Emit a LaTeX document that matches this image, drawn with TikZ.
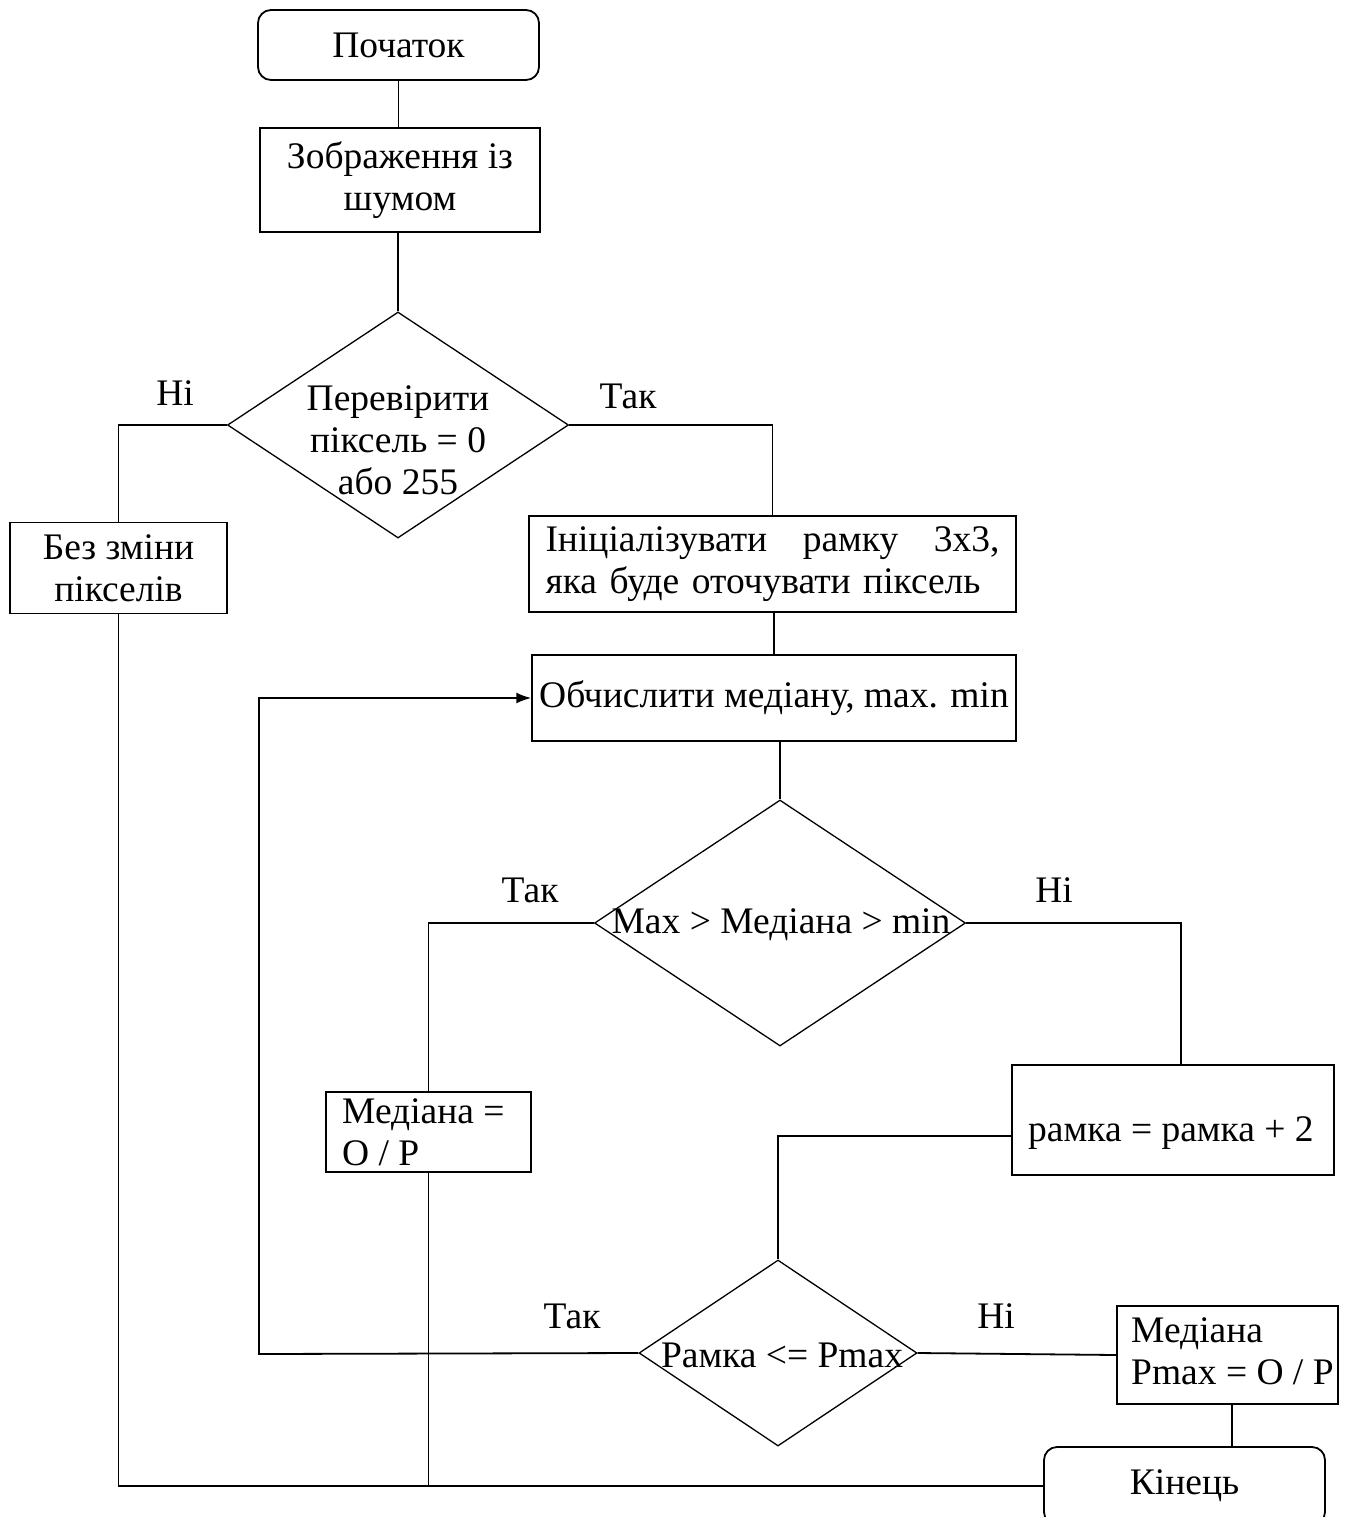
\documentclass[tikz,border=0pt]{standalone}
\usepackage{fontspec}
\setmainfont{Liberation Serif}
\usetikzlibrary{shapes.geometric,arrows.meta}
\begin{document}
\begin{tikzpicture}[x=1pt,y=-1pt,
  every node/.style={font=\fontsize{37.5}{42}\selectfont},
  term/.style={draw,rectangle,rounded corners=13pt,line width=1.8pt,inner sep=0pt},
  blk/.style={draw,rectangle,line width=1.5pt,inner sep=0pt},
  dia/.style={draw,diamond,line width=1.3pt,inner sep=0pt},
  txt/.style={inner sep=0pt,align=center},
  ltxt/.style={inner sep=0pt,align=left,anchor=west},
  lbl/.style={inner sep=0pt},
  conn/.style={line width=1.8pt}]
\useasboundingbox (0,0) rectangle (1346,1517);
% nodes
\node[term,minimum width=281pt,minimum height=70pt] (start) at (398.5,45) {Початок};
\node[blk,minimum width=280pt,minimum height=104pt,align=center] (zobr) at (400,180) {Зображення із\\шумом};
\node[dia,minimum width=341pt,minimum height=226pt] (d1) at (398,425) {};
\node[txt] (d1t) at (398,440) {Перевірити\\піксель = 0\\або 255};
\node[blk,minimum width=217pt,minimum height=91pt,align=center] (bez) at (118.5,568) {Без зміни\\пікселів};
\node[blk,minimum width=487pt,minimum height=96pt,text width=454pt,align=left] (init) at (772.5,564)
  {Ініціалізувати\hfill рамку\hfill 3x3,\\яка буде оточувати піксель};
\node[blk,minimum width=484pt,minimum height=86pt] (obch) at (774,698) {\raisebox{4pt}{Обчислити медіану, max. min}};
\node[dia,minimum width=371pt,minimum height=246pt] (d2) at (780,923) {};
\node[txt] (d2t) at (781,925) {Max > Медіана > min};
\node[blk,minimum width=205pt,minimum height=80pt] (med1) at (428.5,1132) {};
\node[ltxt] (med1t) at (342,1132) {Медіана =\\O / P};
\node[blk,minimum width=322pt,minimum height=110pt] (ramka) at (1173,1120) {};
\node[ltxt] (ramkat) at (1028,1133) {рамка = рамка + 2};
\node[dia,minimum width=278pt,minimum height=186pt] (d3) at (778,1353) {};
\node[txt] (d3t) at (782,1355) {Рамка <= Pmax};
\node[blk,minimum width=221pt,minimum height=98pt] (med2) at (1227.5,1355) {};
\node[ltxt] (med2t) at (1131,1351) {Медіана\\Pmax = O / P};
\node[term,minimum width=281pt,minimum height=78pt] (kin) at (1184.5,1486) {Кінець};
% labels
\node[lbl] (l1) at (175,393) {Ні};
\node[lbl] (l2) at (628,396) {Так};
\node[lbl] (l3) at (530,890) {Так};
\node[lbl] (l4) at (1054,890) {Ні};
\node[lbl] (l5) at (572,1316) {Так};
\node[lbl] (l6) at (996,1316) {Ні};
% helper coordinates
\coordinate (loopc) at (259,1354);
\coordinate (bl) at (bez.south |- kin.west);
\coordinate (rn) at ([xshift=8pt]ramka.north);
\coordinate (rw) at ([yshift=-16pt]ramka.west);
% connectors
\draw[conn] (start.south) -- (start.south |- zobr.north);
\draw[conn] (zobr.south -| d1.north) -- (d1.north);
\draw[conn] (d1.west) -| (bez.north);
\draw[conn] (d1.east) -| (init.north);
\draw[conn] (obch.north |- init.south) -- (obch.north);
\draw[conn] (d2.north |- obch.south) -- (d2.north);
\draw[conn] (d2.west) -| (med1.north);
\draw[conn] (d2.east) -| (rn);
\draw[conn] (rw) -| (d3.north);
\draw[conn,-{Latex[length=15pt,width=11pt]}] (d3.west) -- (loopc) |- (obch.west);
\draw[conn] (d3.east) -- (med2.west);
\draw[conn] (med2.south -| 1232,0) -- (kin.north -| 1232,0);
\draw[conn] (bez.south) -- (bl) -- (kin.west);
\draw[conn] (med1.south) -- (med1.south |- bl);
\end{tikzpicture}
\end{document}
